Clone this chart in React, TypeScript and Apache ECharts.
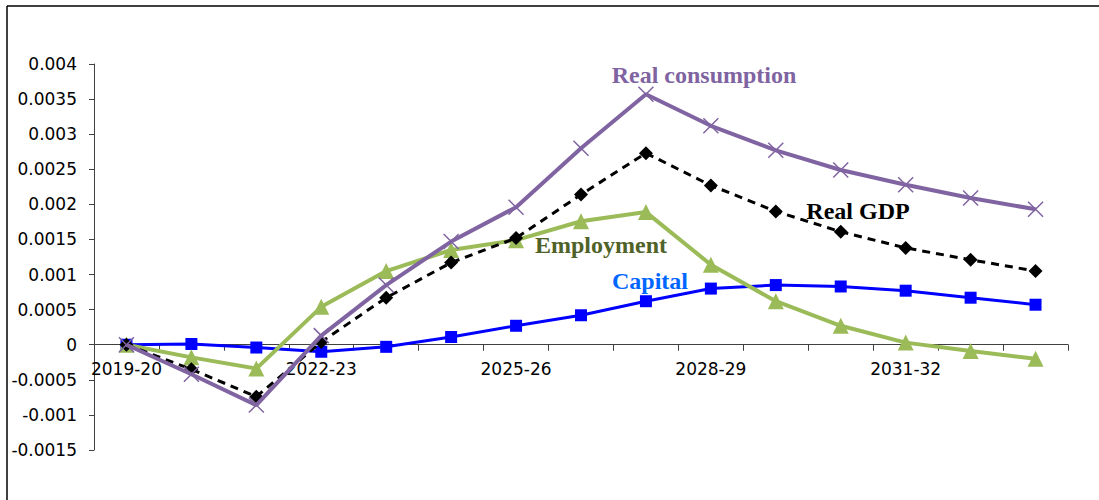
import React, { useEffect, useRef } from "react";
import * as echarts from "echarts";

const categories = [
  "2019-20", "2020-21", "2021-22", "2022-23", "2023-24", "2024-25", "2025-26", "2026-27",
  "2027-28", "2028-29", "2029-30", "2030-31", "2031-32", "2032-33", "2033-34",
];

const realConsumption = [0, -0.00042, -0.00086, 0.00013, 0.00085, 0.00147, 0.00196, 0.0028, 0.00357, 0.00312, 0.00277, 0.00249, 0.00228, 0.00209, 0.00193];
const realGDP = [0, -0.00035, -0.00074, 0.00004, 0.00067, 0.00117, 0.00152, 0.00214, 0.00273, 0.00227, 0.0019, 0.00161, 0.00138, 0.00121, 0.00105];
const employment = [0, -0.00018, -0.00034, 0.00054, 0.00105, 0.00135, 0.00149, 0.00176, 0.00189, 0.00114, 0.00062, 0.00027, 0.00003, -0.00009, -0.0002];
const capital = [0, 0.00001, -0.00004, -0.0001, -0.00003, 0.00011, 0.00027, 0.00042, 0.00062, 0.0008, 0.00085, 0.00083, 0.00077, 0.00067, 0.00057];

const yMin = -0.0015;
const yMax = 0.004;
const yStep = 0.0005;

const seriesLabels = [
  { text: "Real consumption", color: "#8064A2", x: 704, y: 75 },
  { text: "Real GDP", color: "#000000", x: 858, y: 211 },
  { text: "Employment", color: "#4F6228", x: 601, y: 245 },
  { text: "Capital", color: "#0066FF", x: 650, y: 281 },
];

export default function App() {
  const ref = useRef<HTMLDivElement>(null);
  useEffect(() => {
    if (!ref.current) return;
    const chart = echarts.init(ref.current, undefined, { renderer: "svg" });
    const gridTop = 64;
    const gridBottom = 50;
    const plotH = 500 - gridTop - gridBottom;
    const zeroOffset = -plotH * (0 - yMin) / (yMax - yMin);
    chart.setOption({
      animation: false,
      backgroundColor: "#ffffff",
      grid: { left: 94, right: 31, top: gridTop, bottom: gridBottom, containLabel: false },
      xAxis: {
        type: "category",
        data: categories,
        boundaryGap: true,
        offset: zeroOffset,
        axisLine: { onZero: false, lineStyle: { color: "#404040", width: 1 } },
        axisTick: { show: true, interval: 0, length: 6, inside: false, lineStyle: { color: "#404040" } },
        axisLabel: { interval: 2, margin: 16, color: "#000", fontFamily: "DejaVu Sans", fontSize: 17 },
        splitLine: { show: false },
      },
      yAxis: {
        type: "value",
        min: yMin,
        max: yMax,
        interval: yStep,
        axisLine: { show: true, lineStyle: { color: "#404040", width: 1 } },
        axisTick: { show: true, length: 5, lineStyle: { color: "#404040" } },
        axisLabel: {
          margin: 17,
          color: "#000",
          fontFamily: "DejaVu Sans",
          fontSize: 17,
          formatter: (v: number) => String(Number(v.toFixed(4))),
        },
        splitLine: { show: false },
      },
      series: [
        {
          name: "Capital",
          type: "line",
          data: capital,
          symbol: "rect",
          symbolSize: 12,
          lineStyle: { color: "#0000FF", width: 3 },
          itemStyle: { color: "#0000FF" },
          z: 2,
        },
        {
          name: "Employment",
          type: "line",
          data: employment,
          symbol: "triangle",
          symbolSize: 16,
          lineStyle: { color: "#9BBB59", width: 4 },
          itemStyle: { color: "#9BBB59" },
          z: 3,
        },
        {
          name: "Real GDP",
          type: "line",
          data: realGDP,
          symbol: "diamond",
          symbolSize: 14,
          lineStyle: { color: "#000000", width: 3, type: [8, 6] },
          itemStyle: { color: "#000000" },
          z: 4,
        },
        {
          name: "Real consumption",
          type: "line",
          data: realConsumption,
          symbol: "path://M0,0L10,10M10,0L0,10",
          symbolSize: 15,
          lineStyle: { color: "#8064A2", width: 4 },
          itemStyle: { color: "#8064A2", borderColor: "#8064A2", borderWidth: 1.5 },
          z: 5,
        },
      ],
      graphic: [
        { type: "line", shape: { x1: 7, y1: 6, x2: 1099, y2: 6 }, style: { stroke: "#000", lineWidth: 1.5 } },
        { type: "line", shape: { x1: 7, y1: 6, x2: 7, y2: 500 }, style: { stroke: "#000", lineWidth: 1.5 } },
        ...seriesLabels.map((l) => ({
          type: "text",
          x: l.x,
          y: l.y,
          z: 100,
          style: {
            text: l.text,
            fill: l.color,
            fontFamily: "Liberation Serif",
            fontWeight: "bold",
            fontSize: 24,
            align: "center",
            verticalAlign: "middle",
          },
        })),
      ],
    });
    return () => chart.dispose();
  }, []);
  return (
    <div
      ref={ref}
      style={{ position: "fixed", left: 0, top: 0, width: 1099, height: 500, background: "#fff" }}
    />
  );
}
